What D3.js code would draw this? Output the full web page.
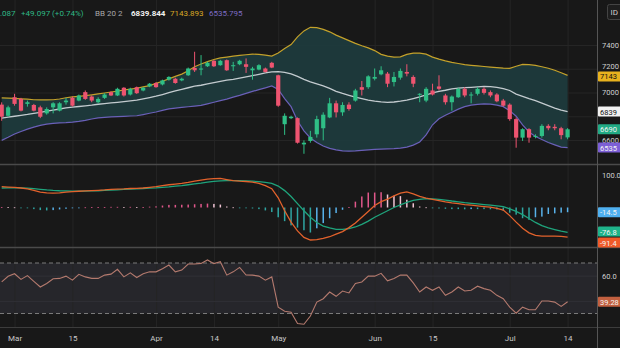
<!DOCTYPE html>
<html><head><meta charset="utf-8">
<script src="https://cdn.jsdelivr.net/npm/d3@7/dist/d3.min.js"></script>
<style>html,body{margin:0;padding:0;background:#181818;overflow:hidden}svg{display:block}</style>
</head><body>
<svg id="chart" width="620" height="348"></svg>
<script>
const tickIndex = [2,11,24,33,43,58,67,79,88];
const tickLabels = ["Mar","15","Apr","14","May","Jun","15","Jul","14"];
const priceTicks = [6600,6800,7000,7200,7400];
const priceTickLabels = [6600,7000,7200,7400];
const macdTicks = [100];
const rsiTicks = [40,60];
const rsiTickLabels = [60];

const openP = [6898,6804,6960,6946,6904,6895,6875,6824,6875,6847,
 6918,6955,6932,7003,6966,6918,6955,7003,6975,7040,
 6983,7045,7017,7051,7080,7068,7108,7116,7102,7145,
 7207,7193,7221,7267,7230,7272,7221,7238,7238,7187,
 7193,7202,7250,7145,6733,6784,6784,6563,6592,6648,
 6699,6790,6909,6833,6898,6932,7045,7045,7116,7153,
 7159,7088,7125,7173,7131,6983,6932,7017,7051,6975,
 6918,6960,7031,6975,6989,7031,7003,6983,6932,6898,
 6776,6620,6691,6626,6634,6719,6711,6699,6622];
const highP = [6917,6889,6989,6955,6932,6904,6889,6875,6918,6918,
 6955,6966,6983,7017,6975,6960,6994,7010,7040,7045,
 7040,7050,7045,7080,7088,7108,7137,7125,7125,7210,
 7343,7315,7260,7272,7275,7278,7258,7275,7287,7216,
 7238,7210,7258,7150,6824,6805,6790,6597,6677,6804,
 6833,6955,6932,6918,6918,7031,7097,7145,7202,7221,
 7173,7173,7202,7238,7145,6994,7045,7074,7145,6989,
 6975,7040,7045,7003,7045,7045,7017,6994,6946,6909,
 6790,6699,6699,6648,6733,6733,6733,6711,6700];
const lowP = [6762,6796,6889,6841,6881,6841,6784,6813,6824,6841,
 6898,6881,6926,6938,6918,6909,6946,6970,6970,6966,
 6975,6988,7010,7045,7040,7060,7100,7074,7095,7140,
 7173,7145,7215,7215,7225,7182,7182,7230,7165,7108,
 7187,7168,7205,6880,6643,6776,6570,6484,6577,6620,
 6597,6784,6790,6804,6847,6923,6975,7031,7102,7145,
 7045,7051,7108,7136,7045,6918,6918,6975,7017,6898,
 6847,6955,6960,6909,6975,6983,6960,6918,6881,6762,
 6535,6592,6577,6614,6620,6682,6682,6606,6606];
const closeP = [6796,6875,6904,6847,6918,6847,6796,6861,6909,6909,
 6932,6889,6975,6946,6932,6946,6983,6975,7031,6975,
 7031,6994,7040,7074,7045,7102,7131,7080,7116,7202,
 7187,7202,7250,7221,7267,7187,7230,7267,7216,7202,
 7230,7173,7210,6889,6804,6796,6577,6577,6626,6776,
 6813,6909,6833,6895,6861,7017,7023,7136,7131,7187,
 7074,7131,7182,7159,7074,6989,7031,6983,7031,6918,
 6966,7031,6975,6983,7031,6997,6975,6926,6889,6776,
 6620,6691,6620,6634,6719,6699,6699,6641,6690.087];

const bbUpper = [6955,6953,6951,6947,6944,6939,6938,6938,6939,6945,
 6956,6963,6968,6973,6980,6988,6996,7004,7011,7021,
 7029,7036,7048,7058,7077,7095,7115,7136,7155,7183,
 7217,7240,7260,7278,7291,7298,7306,7312,7318,7323,
 7321,7315,7306,7332,7370,7404,7468,7519,7549,7546,
 7532,7511,7483,7460,7437,7414,7394,7376,7353,7321,
 7306,7298,7300,7321,7332,7332,7323,7298,7281,7266,
 7253,7244,7234,7229,7224,7219,7214,7210,7206,7204,
 7221,7236,7234,7228,7217,7204,7187,7166,7143.893];
const bbMiddle = [6785,6792,6800,6808,6815,6824,6833,6843,6852,6861,
 6871,6877,6882,6887,6893,6901,6906,6912,6917,6923,
 6929,6936,6946,6957,6969,6983,6998,7013,7027,7040,
 7053,7061,7072,7083,7094,7105,7111,7121,7132,7142,
 7153,7165,7174,7175,7170,7157,7136,7111,7089,7072,
 7055,7034,7010,6992,6976,6961,6949,6935,6927,6921,
 6917,6920,6927,6936,6949,6963,6979,6997,7009,7019,
 7031,7037,7041,7044,7048,7051,7049,7043,7032,7017,
 6987,6968,6949,6932,6911,6889,6868,6851,6839.844];
const bbLower = [6597,6623,6651,6672,6692,6709,6723,6734,6740,6744,
 6746,6750,6757,6766,6777,6786,6791,6794,6797,6799,
 6802,6804,6814,6825,6836,6850,6862,6868,6874,6880,
 6886,6891,6904,6918,6932,6944,6961,6976,6993,7009,
 7024,7039,7055,7026,6949,6881,6762,6677,6617,6579,
 6549,6529,6517,6508,6506,6508,6512,6517,6521,6523,
 6526,6528,6532,6540,6557,6583,6643,6728,6779,6808,
 6834,6860,6881,6894,6900,6904,6902,6894,6881,6847,
 6800,6728,6668,6630,6604,6579,6559,6540,6535.795];

const macdLine = [64,63,62,60,57,53,47,45,44,45,
 47,49,50,51,52,53,54,55.5,56.5,57,
 58.5,59,60,62,64,67,70,72,74,77,
 81,84,87,89,89.5,86,82.5,81,80,78,
 74,67,58,30,-10,-45,-72,-92,-100,-99,
 -95,-90,-82,-74,-62,-48,-30,-12,6,18,
 26,36,44,48,42,34,29,25,21,17,
 14,12,9,7,5,3,1,-3,-8,-25,
 -45,-64,-78,-86,-88,-88,-88,-89,-91.4];
const signalLine = [60,60.5,61,60.5,59.5,58,56,54,52.5,51.5,
 51,50.5,50.5,50.5,51,51.5,52.5,53.5,54.5,55.5,
 56.5,57.5,58.5,59.5,60.5,62,63.5,65.5,67.5,70,
 72.5,75,78,80.5,82,83,83,82.5,82,81,
 79.5,77,74,66,52,34,12,-10,-30,-46,
 -57,-63,-67,-67,-65,-60,-52,-42,-30,-20,
 -10,0,8,16,22,25,27,26.5,25,23,
 20,17.5,15,13,11,9,7,5,2.5,-4,
 -12,-22,-34,-46,-56,-63,-68,-73,-76.8];
const macdHist = [1.5,1,0.5,-1,-2,-5,-8,-9,-8,-6,
 -4,-2,-1,0.5,1,1.5,1.5,2,2,1.5,
 2,1.5,1.5,2.5,3.5,6,8,8,8.5,9,
 10,11,12,11,9,3,0.5,-1,-2,-3,
 -5,-9,-14,-30,-42,-55,-62,-70,-77,-64,
 -48,-33,-17,-7,1,18,34,46,46,47,
 40,36,35,24,13,3,0.5,-2,-3,-4,
 -5,-5,-5.5,-5,-5,-5,-5.5,-6,-10,-16,
 -22,-33,-38,-30,-28,-20,-18,-16,-14.5];
const rsiLine = [55,59.5,61.5,57,60,55.5,51,53.8,57.5,57.8,
 59.6,56.4,61,59,57.8,57.8,60.4,61.2,65,59,
 62.2,58.5,61.5,63,63,65.5,68.4,63,64.4,69.2,
 69.2,69.7,72.4,69.5,71,60.4,63,66.5,60.5,60.4,
 59.6,56.4,59,35,31.8,31,22,21.5,28,39,
 41.7,47,43.6,47.8,46.3,53.8,55,59.6,59.6,61.8,
 55.9,57.8,60.4,60.4,54.3,47,51,48.4,51,44.4,
 47,51,47.8,48.4,51.6,49.7,48.4,44.4,41.7,35,
 30.2,35,33,33,39.9,39.9,39,35.6,39.28];

const FONT = "Roboto, 'Liberation Sans', Arial, sans-serif";
const svg = d3.select("#chart");
const n = closeP.length, idx = d3.range(n);
const PR = 597;
const x = d3.scaleLinear().domain([0, n-1]).range([1.7, 567.6]);
const yP = d3.scaleLinear().domain([6600,7400]).range([140,45]);
const yM = d3.scaleLinear().domain([-100,100]).range([240,175]);
const yR = d3.scaleLinear().domain([30,70]).range([313.5,263]);

svg.append("rect").attr("width",620).attr("height",348).attr("fill","#181818");
const defs = svg.append("defs");
[["cp",0,0,PR,164],["cm",0,165,PR,82],["cr",0,248,PR,79]].forEach(([id,a,b,w,h])=>
  defs.append("clipPath").attr("id",id).append("rect").attr("x",a).attr("y",b).attr("width",w).attr("height",h));

svg.append("rect").attr("x",0).attr("y",yR(70)).attr("width",PR).attr("height",yR(30)-yR(70)).attr("fill","#26262b");

const gv = svg.append("g").call(d3.axisBottom(x).tickValues(tickIndex).tickSize(327).tickFormat(""));
gv.select(".domain").remove(); gv.selectAll("line").attr("stroke","#252525");
const gh = svg.append("g").attr("transform",`translate(${PR},0)`).call(d3.axisLeft(yP).tickValues(priceTicks).tickSize(PR).tickFormat(""));
gh.select(".domain").remove(); gh.selectAll("line").attr("stroke","#252525");
const gr = svg.append("g").attr("transform",`translate(${PR},0)`).call(d3.axisLeft(yR).tickValues(rsiTicks).tickSize(PR).tickFormat(""));
gr.select(".domain").remove(); gr.selectAll("line").attr("stroke","#303036");

const gp = svg.append("g").attr("clip-path","url(#cp)");
gp.append("path").datum(idx).attr("fill","#1d3a3c").attr("opacity",0.95)
  .attr("d", d3.area().x(i=>x(i)).y0(i=>yP(bbLower[i])).y1(i=>yP(bbUpper[i])));
const ln = (arr, sc) => d3.line().x(i=>x(i)).y(i=>sc(arr[i]));
gp.append("path").datum(idx).attr("fill","none").attr("stroke","#c4a12a").attr("stroke-width",1.2).attr("d",ln(bbUpper,yP));
gp.append("path").datum(idx).attr("fill","none").attr("stroke","#6a60b8").attr("stroke-width",1.2).attr("d",ln(bbLower,yP));
gp.append("path").datum(idx).attr("fill","none").attr("stroke","#c3cbcf").attr("stroke-width",1.3).attr("d",ln(bbMiddle,yP));
const UP="#2fbf86", DN="#ee5470";
const cg = gp.selectAll("g.c").data(idx).join("g");
cg.append("line").attr("x1",i=>x(i)).attr("x2",i=>x(i)).attr("y1",i=>yP(highP[i])).attr("y2",i=>yP(lowP[i]))
  .attr("stroke",i=>closeP[i]>=openP[i]?UP:DN).attr("stroke-width",1);
cg.append("rect").attr("x",i=>x(i)-2.1).attr("width",4.2)
  .attr("y",i=>yP(Math.max(openP[i],closeP[i])))
  .attr("height",i=>Math.max(1,Math.abs(yP(openP[i])-yP(closeP[i]))))
  .attr("fill",i=>closeP[i]>=openP[i]?UP:DN);

const gm = svg.append("g").attr("clip-path","url(#cm)");
const hcol = i => { const h=macdHist[i], p=i>0?macdHist[i-1]:h;
  if (h>=0) return h>=p ? "#e0578a" : "#f0c4d4";
  return h<=p ? "#2fa5a2" : "#58b2ea"; };
gm.selectAll("rect").data(idx).join("rect")
  .attr("x",i=>x(i)-0.75).attr("width",1.5)
  .attr("y",i=>Math.min(yM(0),yM(macdHist[i]))).attr("height",i=>Math.max(0.8,Math.abs(yM(macdHist[i])-yM(0))))
  .attr("fill",hcol);
gm.append("path").datum(idx).attr("fill","none").attr("stroke","#1fa47c").attr("stroke-width",1.3).attr("d",ln(signalLine,yM));
gm.append("path").datum(idx).attr("fill","none").attr("stroke","#e2622c").attr("stroke-width",1.3).attr("d",ln(macdLine,yM));

const grs = svg.append("g").attr("clip-path","url(#cr)");
[70,30].forEach(v=>grs.append("line").attr("x1",0).attr("x2",PR).attr("y1",yR(v)).attr("y2",yR(v))
  .attr("stroke","#7a7a7a").attr("stroke-dasharray","4,3").attr("stroke-width",1));
grs.append("path").datum(idx).attr("fill","none").attr("stroke","#b47a6e").attr("stroke-width",1.1).attr("d",ln(rsiLine,yR));

const sep = (x1,y1,x2,y2,c,w)=>svg.append("line").attr("x1",x1).attr("y1",y1).attr("x2",x2).attr("y2",y2).attr("stroke",c).attr("stroke-width",w);
sep(0,164.5,620,164.5,"#4a4a4a",1.5);
sep(0,247.5,620,247.5,"#4a4a4a",1.5);
sep(0,327.5,620,327.5,"#3c3c3c",1.2);
sep(PR+0.5,0,PR+0.5,348,"#555",1);

const ta = svg.append("g").attr("transform","translate(0,328)")
  .call(d3.axisBottom(x).tickValues(tickIndex).tickSize(0).tickPadding(7).tickFormat((d,k)=>tickLabels[k]));
ta.select(".domain").remove();
ta.selectAll("text").attr("fill","#c8c8c8").style("font-family",FONT).style("font-size","8px");

const rax = (sc, vals, fmt) => { const g = svg.append("g").attr("transform",`translate(${PR},0)`)
  .call(d3.axisRight(sc).tickValues(vals).tickSize(0).tickPadding(5).tickFormat(fmt));
  g.select(".domain").remove();
  g.selectAll("text").attr("fill","#d0d0d0").style("font-family",FONT).style("font-size","7.5px");
  return g; };
const pa = rax(yP, priceTickLabels, d3.format("d"));
pa.selectAll(".tick").filter(d=>d===7200).select("text").attr("dy","-0.05em");
rax(yM, macdTicks, d3.format(".1f"));
rax(yR, rsiTickLabels, d3.format(".1f"));

const boxes = [
 {t:"7143", y:yP(7143.893)+1, bg:"#e8b21e", fg:"#111"},
 {t:"6839", y:yP(6839.844), bg:"#f2f2f2", fg:"#111"},
 {t:"6690", y:yP(6690.087), bg:"#22ab85", fg:"#f4f4f4"},
 {t:"6535", y:yP(6535.795), bg:"#7c5fd6", fg:"#f4f4f4"},
 {t:"-14.5", y:yM(-14.5), bg:"#4fb0f0", fg:"#f4f4f4"},
 {t:"-76.8", y:231.5, bg:"#1fb38a", fg:"#f4f4f4"},
 {t:"-91.4", y:242.5, bg:"#f05a28", fg:"#f4f4f4"},
 {t:"39.28", y:yR(39.28), bg:"#c2603f", fg:"#f4f4f4"}
];
const bg = svg.selectAll("g.box").data(boxes).join("g");
bg.append("rect").attr("x",PR+1).attr("y",d=>d.y-5).attr("width",30).attr("height",10).attr("rx",1).attr("fill",d=>d.bg);
bg.append("text").attr("x",PR+3).attr("y",d=>d.y+3).text(d=>d.t).attr("fill",d=>d.fg)
  .style("font-family",FONT).style("font-size","7.5px");

svg.append("rect").attr("x",607.5).attr("y",4.5).attr("width",16).attr("height",15).attr("rx",2).attr("fill","#1e1e1e").attr("stroke","#444");
svg.append("text").attr("x",610.5).attr("y",15).text("ID").attr("fill","#d0d0d0").style("font-family",FONT).style("font-size","8px");

const hd = [
 {t:".087", x:0, c:"#2fb886", w:400},
 {t:"+49.097 (+0.74%)", x:21, c:"#2fb886", w:400},
 {t:"BB 20 2", x:95, c:"#a8a8a8", w:400},
 {t:"6839.844", x:131, c:"#f0f0f0", w:700},
 {t:"7143.893", x:170, c:"#d9a825", w:400},
 {t:"6535.795", x:209, c:"#7d6cc4", w:400}
];
svg.selectAll("text.hd").data(hd).join("text").attr("class","hd").attr("x",d=>d.x).attr("y",16).text(d=>d.t)
  .attr("fill",d=>d.c).style("font-weight",d=>d.w).style("font-family",FONT).style("font-size","8px");
</script>
</body></html>
